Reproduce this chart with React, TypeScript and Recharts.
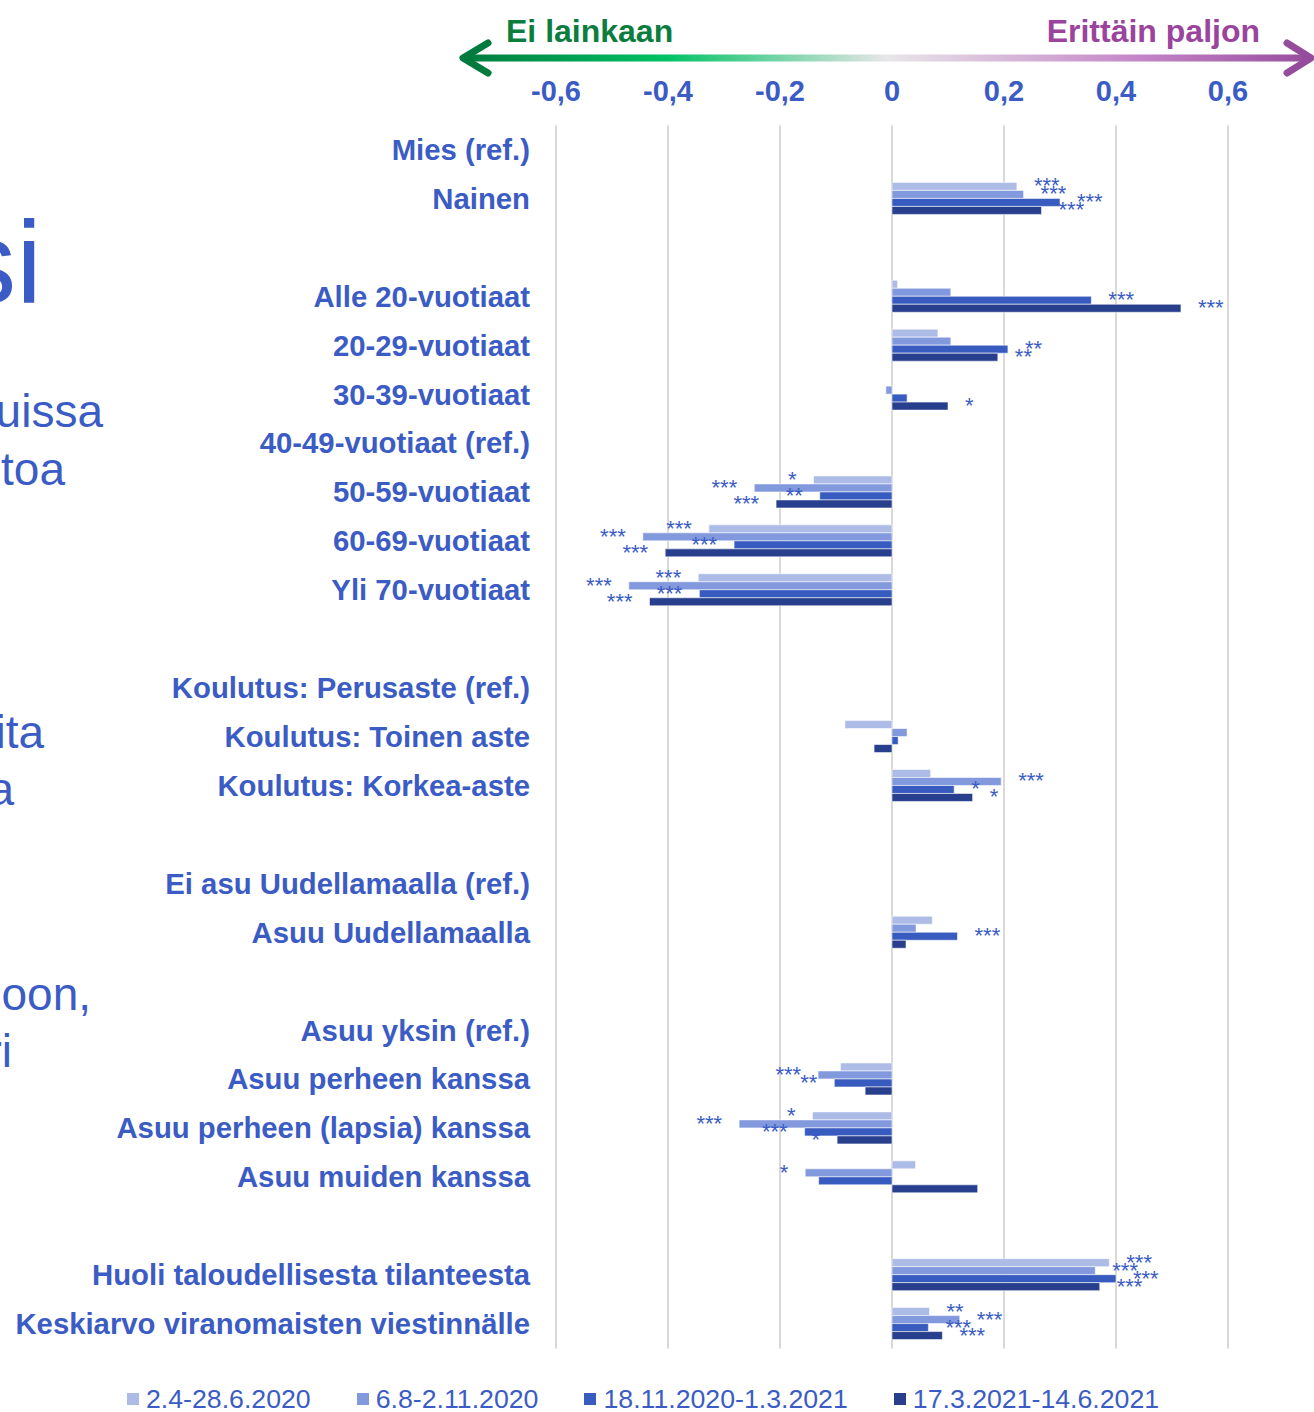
import { BarChart, Bar, XAxis, YAxis, CartesianGrid, Legend, LabelList } from "recharts";

const categories = [
  "Mies (ref.)", "Nainen", "",
  "Alle 20-vuotiaat", "20-29-vuotiaat", "30-39-vuotiaat", "40-49-vuotiaat (ref.)",
  "50-59-vuotiaat", "60-69-vuotiaat", "Yli 70-vuotiaat", "",
  "Koulutus: Perusaste (ref.)", "Koulutus: Toinen aste", "Koulutus: Korkea-aste", "",
  "Ei asu Uudellamaalla (ref.)", "Asuu Uudellamaalla", "",
  "Asuu yksin (ref.)", "Asuu perheen kanssa", "Asuu perheen (lapsia) kanssa", "Asuu muiden kanssa", "",
  "Huoli taloudellisesta tilanteesta", "Keskiarvo viranomaisten viestinnälle",
];

const period1 = [null, 0.223, null, 0.01, 0.082, null, null, -0.14, -0.327, -0.346, null, null, -0.084, 0.069, null, null, 0.072, null, null, -0.092, -0.142, 0.042, null, 0.388, 0.067];
const period2 = [null, 0.235, null, 0.105, 0.105, -0.011, null, -0.246, -0.445, -0.47, null, null, 0.027, 0.195, null, null, 0.043, null, null, -0.132, -0.273, -0.155, null, 0.363, 0.121];
const period3 = [null, 0.30, null, 0.356, 0.207, 0.027, null, -0.129, -0.282, -0.344, null, null, 0.011, 0.111, null, null, 0.117, null, null, -0.103, -0.156, -0.131, null, 0.40, 0.065];
const period4 = [null, 0.267, null, 0.516, 0.189, 0.10, null, -0.207, -0.405, -0.433, null, null, -0.032, 0.144, null, null, 0.025, null, null, -0.048, -0.098, 0.153, null, 0.371, 0.09];

const sig1 = ["", "***", "", "", "", "", "", "*", "***", "***", "", "", "", "", "", "", "", "", "", "", "*", "", "", "***", "**"];
const sig2 = ["", "***", "", "", "", "", "", "***", "***", "***", "", "", "", "***", "", "", "", "", "", "***", "***", "*", "", "***", "***"];
const sig3 = ["", "***", "", "***", "**", "", "", "**", "***", "***", "", "", "", "*", "", "", "***", "", "", "**", "***", "", "", "***", "***"];
const sig4 = ["", "***", "", "***", "**", "*", "", "***", "***", "***", "", "", "", "*", "", "", "", "", "", "", "*", "", "", "***", "***"];

const seriesNames = ["2.4-28.6.2020", "6.8-2.11.2020", "18.11.2020-1.3.2021", "17.3.2021-14.6.2021"];
const seriesColors = ["#adbbe7", "#8299dd", "#385bbf", "#273f8c"];
const xTicks = [-0.6, -0.4, -0.2, 0, 0.2, 0.4, 0.6];

const data = categories.map((name, i) => ({
  key: String(i),
  name,
  v0: period1[i], v1: period2[i], v2: period3[i], v3: period4[i],
  s0: sig1[i], s1: sig2[i], s2: sig3[i], s3: sig4[i],
}));

const BLUE = "#3b5cc4";
const FONT = "'Liberation Sans', Arial, sans-serif";

function CategoryTick(props: any) {
  const { x, y, payload } = props;
  const label = categories[Number(payload.value)];
  return (
    <text x={x} y={y + 10} textAnchor="end" fill={BLUE} fontSize={29.3} fontWeight="bold" fontFamily={FONT}>
      {label}
    </text>
  );
}

// label value carries the bar's sign: "+***" or "-**"
function SigLabel(props: any) {
  const { x, y, width, height, value } = props;
  if (!value) return null;
  const neg = String(value)[0] === "-";
  const text = String(value).slice(1);
  const a = Number(x), b = Number(x) + Number(width);
  const end = neg ? Math.min(a, b) : Math.max(a, b);
  return (
    <text
      x={neg ? end - 17 : end + 17}
      y={Number(y) + Number(height) / 2 + 7}
      textAnchor={neg ? "end" : "start"}
      fill={BLUE}
      fontSize={22}
      fontFamily={FONT}
    >
      {text}
    </text>
  );
}

function LegendBox() {
  return (
    <div style={{ height: 63.5, position: "relative", fontFamily: FONT }}>
      <div style={{ position: "absolute", top: 39, left: 127, display: "flex", alignItems: "center", whiteSpace: "nowrap" }}>
        {seriesNames.map((n, i) => (
          <div key={n} style={{ display: "flex", alignItems: "center", marginRight: 46 }}>
            <span style={{ width: 12, height: 12, background: seriesColors[i], display: "inline-block", marginRight: 7 }} />
            <span style={{ color: BLUE, fontSize: 26.7, lineHeight: "22px" }}>{n}</span>
          </div>
        ))}
      </div>
    </div>
  );
}

const sideText = [
  { t: "si", x: 42, y: 303, size: 116 },
  { t: "uissa", x: 103, y: 427, size: 46 },
  { t: "toa", x: 65, y: 485, size: 46 },
  { t: "ita", x: 44, y: 748, size: 46 },
  { t: "a", x: 14, y: 805, size: 46 },
  { t: "oon,", x: 91, y: 1010, size: 46 },
  { t: "ri", x: 12, y: 1067, size: 46 },
];

function Overlay() {
  return (
    <svg width={1314} height={1412} style={{ position: "absolute", left: 0, top: 0, pointerEvents: "none" }}>
      <defs>
        <linearGradient id="arrowGrad" gradientUnits="userSpaceOnUse" x1={462} y1={0} x2={1312} y2={0}>
          <stop offset="0%" stopColor="#007a3d" />
          <stop offset="24%" stopColor="#00c264" />
          <stop offset="50%" stopColor="#e8e6e8" />
          <stop offset="80%" stopColor="#c484c8" />
          <stop offset="100%" stopColor="#964c9c" />
        </linearGradient>
      </defs>
      <line x1={466} y1={58} x2={1308} y2={58} stroke="url(#arrowGrad)" strokeWidth={7} />
      <polyline points="488,43 463,58 488,73" fill="none" stroke="#007a3d" strokeWidth={7} strokeLinecap="round" strokeLinejoin="round" />
      <polyline points="1287,43 1311,58 1287,73" fill="none" stroke="#964c9c" strokeWidth={7} strokeLinecap="round" strokeLinejoin="round" />
      <text x={506} y={41.5} fill="#0b7d3e" fontSize={32} fontWeight="bold" fontFamily={FONT}>Ei lainkaan</text>
      <text x={1260} y={41.5} textAnchor="end" fill="#9a449e" fontSize={32} fontWeight="bold" fontFamily={FONT}>Erittäin paljon</text>
      {sideText.map((s) => (
        <text key={s.t} x={s.x} y={s.y} textAnchor="end" fill={BLUE} fontSize={s.size} fontFamily={FONT}>{s.t}</text>
      ))}
    </svg>
  );
}

export default function App() {
  return (
    <div style={{ position: "absolute", left: 0, top: 0, width: 1314, height: 1412, background: "#fff" }}>
      <BarChart
        width={1314}
        height={1412}
        data={data}
        layout="vertical"
        barGap={0}
        barSize={8}
        margin={{ top: 95.5, right: 86, left: 0, bottom: 0 }}
      >
        <CartesianGrid horizontal={false} stroke="#d9d9d9" strokeWidth={2} />
        <XAxis
          type="number"
          orientation="top"
          domain={[-0.6, 0.6]}
          ticks={xTicks}
          axisLine={false}
          tickLine={false}
          tickMargin={19}
          tickFormatter={(v: number) => (v === 0 ? "0" : v.toFixed(1).replace(".", ","))}
          tick={{ fill: BLUE, fontSize: 29, fontWeight: "bold", fontFamily: FONT }}
        />
        <YAxis
          type="category"
          dataKey="key"
          width={556}
          axisLine={false}
          tickLine={false}
          tickMargin={20}
          interval={0}
          tick={<CategoryTick />}
        />
        <Legend verticalAlign="bottom" height={63.5} wrapperStyle={{ left: 0, width: 1314, bottom: 0 }} content={<LegendBox />} />
        {seriesColors.map((c, i) => (
          <Bar
            key={i}
            dataKey={`v${i}`}
            name={seriesNames[i]}
            fill={c}
            stroke="rgba(255,255,255,0.55)"
            strokeWidth={1}
            isAnimationActive={false}
          >
            <LabelList
              dataKey={(d: any) => (d[`s${i}`] ? (d[`v${i}`] < 0 ? "-" : "+") + d[`s${i}`] : "")}
              content={<SigLabel />}
            />
          </Bar>
        ))}
      </BarChart>
      <Overlay />
    </div>
  );
}
